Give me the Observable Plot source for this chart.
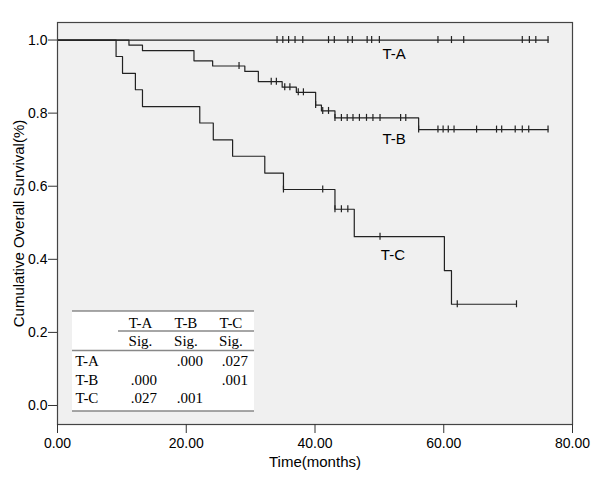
<!DOCTYPE html>
<html><head><meta charset="utf-8">
<script src="https://cdn.jsdelivr.net/npm/d3@7"></script>
<script src="https://cdn.jsdelivr.net/npm/@observablehq/plot@0.6"></script>
<style>
body{margin:0;background:#fff;}
#chart{position:relative;width:600px;height:485px;}
</style></head><body><div id="chart"></div>
<script>
// ---- data ----
const groups = ["T-A", "T-B", "T-C"];

// T-A: no events, only censored cases
const taEventTimes = [];
const taSurvival = [];
const taCensored = [34.1,35.0,35.9,36.9,38.1,42.1,43.0,45.1,45.8,48.1,48.8,50.0,59.1,61.2,63.1,72.2,73.3,74.3,76.2];

const tbEventTimes = [11.1,13.2,21.2,24.1,29.1,31.2,34.9,37.1,40.1,41.0,43.1,56.1];
const tbSurvival   = [0.986,0.971,0.943,0.929,0.914,0.886,0.871,0.857,0.822,0.806,0.787,0.755];
const tbCensored = [28.2,33.2,34.0,35.3,36.1,37.4,38.2,40.1,41.2,42.1,43.1,44.1,45.0,45.9,46.9,48.0,49.0,50.1,53.3,54.1,56.1,59.1,59.9,60.7,61.6,65.1,68.2,69.0,71.1,72.2,73.2,76.2];

const tcEventTimes = [9.1,10.1,12.1,13.2,22.1,24.2,27.2,32.2,35.1,43.1,46.1,60.1,61.2];
const tcSurvival   = [0.955,0.909,0.864,0.818,0.773,0.727,0.682,0.636,0.591,0.537,0.462,0.369,0.277];
const tcCensored = [35.1,41.2,43.1,44.1,45.1,50.1,62.1,71.3];

// curve labels (data coordinates)
const labelText = ["T-A", "T-B", "T-C"];
const labelTime = [52.3, 52.3, 52.1];
const labelSurv = [0.961, 0.730, 0.412];

// axis ticks
const xTicks = [0, 20, 40, 60, 80];
const yTicks = [0, 0.2, 0.4, 0.6, 0.8, 1.0];

// pairwise comparison table
const tableCols = ["T-A", "T-B", "T-C"];
const tableRows = ["T-A", "T-B", "T-C"];
const sigValues = [
  [null, ".000", ".027"],
  [".000", null, ".001"],
  [".027", ".001", null]
];

// ---- build tables ----
const series = [
  {g: "T-A", times: taEventTimes, surv: taSurvival, cens: taCensored},
  {g: "T-B", times: tbEventTimes, surv: tbSurvival, cens: tbCensored},
  {g: "T-C", times: tcEventTimes, surv: tcSurvival, cens: tcCensored}
];
function km(s, t) {
  let v = 1;
  s.times.forEach((et, i) => { if (et <= t) v = s.surv[i]; });
  return v;
}
const stepData = [];
const censData = [];
series.forEach(s => {
  stepData.push({g: s.g, t: 0, s: 1});
  s.times.forEach((t, i) => stepData.push({g: s.g, t, s: s.surv[i]}));
  const end = Math.max(...s.cens, ...s.times);
  stepData.push({g: s.g, t: end, s: km(s, end)});
  s.cens.forEach(t => censData.push({g: s.g, t, s: km(s, t)}));
});
const labels = labelText.map((l, i) => ({l, t: labelTime[i], s: labelSurv[i]}));

const SANS = "'Liberation Sans', Arial, sans-serif";
const ink = "#222";

const plot = Plot.plot({
  width: 600,
  height: 485,
  marginLeft: 57,
  marginRight: 28,
  marginTop: 22,
  marginBottom: 61,
  style: {fontFamily: SANS, fontSize: "14px", color: "#000", background: "#fff"},
  x: {domain: [0, 80]},
  y: {domain: [-0.052, 1.048]},
  marks: [
    Plot.frame({fill: "#f0f0f0", stroke: null}),
    Plot.line(stepData, {x: "t", y: "s", z: "g", curve: "step-after", stroke: ink, strokeWidth: 1.2}),
    Plot.ruleX(censData, {x: "t", y1: "s", y2: "s", insetTop: -3.5, insetBottom: -3.5, stroke: ink, strokeWidth: 1.2}),
    Plot.text(labels, {x: "t", y: "s", text: "l", fontSize: 15, fill: "#000", fontFamily: SANS}),
    Plot.frame({stroke: "#444", strokeWidth: 1.2}),
    Plot.axisX({ticks: xTicks, tickFormat: d3.format(".2f"), tickSize: 9, tickPadding: 5, fontSize: 14, label: null, stroke: "#333"}),
    Plot.axisY({ticks: yTicks, tickFormat: d3.format(".1f"), tickSize: 9, tickPadding: 1, fontSize: 14, label: null, stroke: "#333"}),
    Plot.text(["Time(months)"], {frameAnchor: "bottom", dy: 42, text: d => d, fontSize: 15, fill: "#000"}),
    Plot.text(["Cumulative Overall Survival(%)"], {frameAnchor: "left", dx: -38, rotate: -90, textAnchor: "middle", lineAnchor: "middle", text: d => d, fontSize: 15, fill: "#000"})
  ]
});
document.getElementById("chart").appendChild(plot);

// ---- inset comparison table ----
const svg = d3.select(plot);
const T = {left: 72, right: 254, top: 311, bottom: 411};
const colCenter = [140.5, 186, 231];
const colRight = [157, 203, 248];
const rowBase = [366, 384.5, 403];
const SERIF = "'Liberation Serif', 'Times New Roman', serif";
const tg = svg.append("g").attr("font-family", SERIF).attr("font-size", 15).attr("fill", "#000");
tg.append("rect").attr("x", T.left).attr("y", T.top).attr("width", T.right - T.left).attr("height", T.bottom - T.top).attr("fill", "#fff");
tg.append("line").attr("x1", T.left).attr("x2", T.right).attr("y1", T.top).attr("y2", T.top).attr("stroke", "#555").attr("stroke-width", 1.2);
tg.append("line").attr("x1", 118).attr("x2", T.right).attr("y1", 331).attr("y2", 331).attr("stroke", "#888").attr("stroke-width", 1.5);
tg.append("line").attr("x1", T.left).attr("x2", T.right).attr("y1", 350.5).attr("y2", 350.5).attr("stroke", "#888").attr("stroke-width", 1.5);
tg.append("line").attr("x1", T.left).attr("x2", T.right).attr("y1", T.bottom).attr("y2", T.bottom).attr("stroke", "#888").attr("stroke-width", 1.5);
tableCols.forEach((c, j) => {
  tg.append("text").attr("x", colCenter[j]).attr("y", 328).attr("text-anchor", "middle").text(c);
  tg.append("text").attr("x", colCenter[j]).attr("y", 346).attr("text-anchor", "middle").text("Sig.");
});
tableRows.forEach((r, i) => {
  tg.append("text").attr("x", 87).attr("y", rowBase[i]).text(r);
  sigValues[i].forEach((v, j) => {
    if (v) tg.append("text").attr("x", colRight[j]).attr("y", rowBase[i]).attr("text-anchor", "end").text(v);
  });
});
</script></body></html>
